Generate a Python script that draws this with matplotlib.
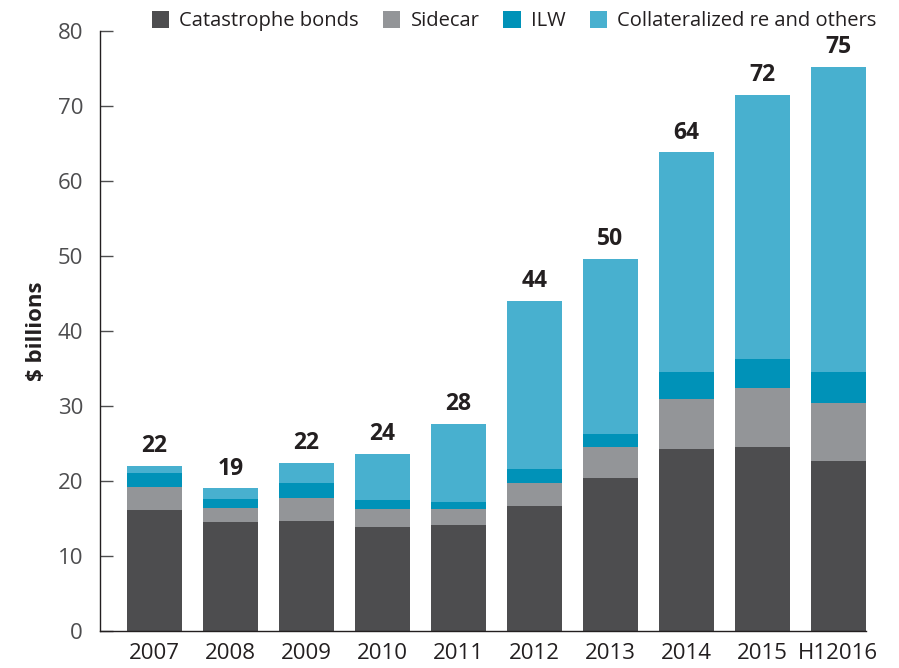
import matplotlib
matplotlib.use("Agg")
import matplotlib.pyplot as plt
import numpy as np

plt.rcParams['font.family'] = ['Open Sans', 'DejaVu Sans']

years = ["2007", "2008", "2009", "2010", "2011", "2012", "2013", "2014", "2015", "H12016"]
cat_bonds = [16.1, 14.5, 14.7, 13.8, 14.1, 16.7, 20.4, 24.3, 24.5, 22.7]
sidecar = [3.1, 1.9, 3.0, 2.5, 2.2, 3.0, 4.1, 6.6, 7.9, 7.7]
ilw = [1.9, 1.2, 2.0, 1.1, 0.9, 1.9, 1.8, 3.6, 3.9, 4.1]
collateralized = [0.9, 1.4, 2.7, 6.2, 10.4, 22.4, 23.3, 29.3, 35.2, 40.7]
totals_label = [22, 19, 22, 24, 28, 44, 50, 64, 72, 75]

series = [
    ("Catastrophe bonds", cat_bonds, "#4d4d4f"),
    ("Sidecar", sidecar, "#939598"),
    ("ILW", ilw, "#0092b8"),
    ("Collateralized re and others", collateralized, "#48b0cf"),
]

fig = plt.figure(figsize=(8.99, 6.68), dpi=100)
ax = fig.add_axes([0.111, 0.0554, 0.852, 0.8982])

x = np.arange(len(years))
bottom = np.zeros(len(years))
for name, vals, col in series:
    ax.bar(x, vals, width=0.72, bottom=bottom, color=col, label=name, linewidth=0)
    bottom += np.array(vals)

for xi, tot, lab in zip(x, bottom, totals_label):
    ax.text(xi, tot + 1.0, str(lab), ha='center', va='bottom', fontsize=16.5,
            fontweight='bold', color='#231f20')

ax.set_xlim(-0.72, 9.36)
ax.set_ylim(0, 80)
ax.set_yticks(range(0, 81, 10))
ax.set_xticks(x)
ax.set_xticklabels(years)
ax.tick_params(axis='x', length=0, pad=9, labelsize=16, colors='#231f20')
ax.tick_params(axis='y', direction='in', length=9, width=1, color='#4d4d4f',
               labelsize=16, labelcolor='#4d4d4f', pad=12)
for s in ['top', 'right']:
    ax.spines[s].set_visible(False)
for s in ['left', 'bottom']:
    ax.spines[s].set_color('#231f20')
    ax.spines[s].set_linewidth(1)

ax.set_ylabel("$ billions", fontsize=16, fontweight='bold', color='#231f20', labelpad=8)

fig.legend(loc='upper center', bbox_to_anchor=(0.572, 1.01), ncol=4, frameon=False,
           fontsize=14.5, handlelength=0.85, handleheight=0.85, handletextpad=0.5,
           columnspacing=1.2, labelcolor='#231f20')

fig.savefig("out.png", dpi=100)
